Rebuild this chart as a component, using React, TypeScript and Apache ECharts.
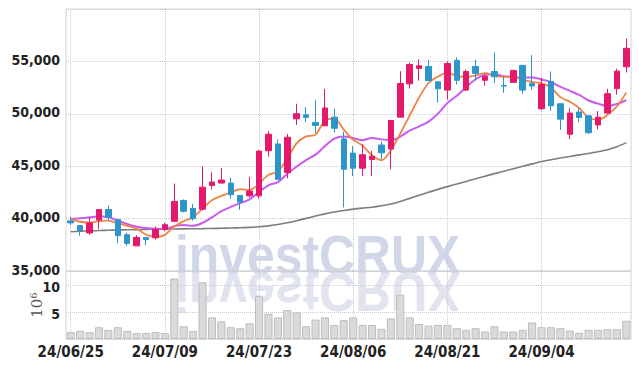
import React, { useEffect, useRef } from "react";
import * as echarts from "echarts";

const dates = [
  "24/06/25", "24/06/26", "24/06/27", "24/06/28", "24/07/01", "24/07/02", "24/07/03", "24/07/04", "24/07/05", "24/07/08",
  "24/07/09", "24/07/10", "24/07/11", "24/07/12", "24/07/15", "24/07/16", "24/07/17", "24/07/18", "24/07/19", "24/07/22",
  "24/07/23", "24/07/24", "24/07/25", "24/07/26", "24/07/29", "24/07/30", "24/07/31", "24/08/01", "24/08/02", "24/08/05",
  "24/08/06", "24/08/07", "24/08/08", "24/08/09", "24/08/12", "24/08/13", "24/08/14", "24/08/16", "24/08/19", "24/08/20",
  "24/08/21", "24/08/22", "24/08/23", "24/08/26", "24/08/27", "24/08/28", "24/08/29", "24/08/30", "24/09/02", "24/09/03",
  "24/09/04", "24/09/05", "24/09/06", "24/09/09", "24/09/10", "24/09/11", "24/09/12", "24/09/13", "24/09/19", "24/09/20",
];

const opens = [
  39780, 39330, 38630, 39860, 40870, 39900, 38460, 37400, 38200, 38170,
  38970, 39740, 41730, 40980, 40890, 43170, 43390, 43390, 42210, 42170,
  42170, 46470, 47120, 44390, 49520, 49900, 49180, 48850, 49680, 47600,
  46250, 44810, 45640, 47020, 46640, 49680, 52860, 54330, 54520, 53050,
  52260, 55100, 52260, 54520, 53200, 54040, 52690, 53000, 54620, 52880,
  50480, 53080, 50960, 48050, 50170, 49810, 48940, 50070, 52400, 54480,
];
const highs = [
  40190, 39380, 40100, 40900, 41250, 40000, 38670, 38410, 38230, 39250,
  39600, 43340, 41830, 41410, 45000, 44420, 44810, 43910, 42230, 43980,
  46540, 48370, 47570, 48080, 50960, 50640, 51320, 52380, 50480, 48300,
  46920, 47090, 46450, 47360, 49420, 54070, 54880, 55200, 55150, 53080,
  55000, 55390, 54230, 55160, 53720, 55840, 53550, 54200, 54640, 55600,
  53430, 54040, 50960, 50530, 50530, 49900, 50260, 52380, 54300, 57180,
];
const lows = [
  39400, 38370, 38460, 39010, 39810, 37640, 37400, 37380, 37470, 37980,
  38800, 39660, 40570, 39810, 40770, 42790, 43340, 41880, 40840, 42000,
  41910, 45900, 43720, 43850, 48940, 49200, 48150, 48820, 48220, 41060,
  44040, 44070, 44070, 45650, 44710, 49660, 52400, 53170, 53150, 51060,
  51350, 52790, 52170, 53200, 52690, 52950, 52000, 52950, 51920, 52300,
  50390, 50290, 48460, 47590, 49200, 48080, 48510, 50050, 51830, 53940,
];
const closes = [
  39590, 38850, 39590, 40870, 40130, 38370, 37630, 38200, 38010, 38970,
  39420, 41640, 40700, 39990, 43000, 43490, 43680, 42280, 41570, 42630,
  46440, 48050, 43750, 47760, 50000, 49650, 48890, 50550, 48620, 44710,
  44810, 46090, 45960, 46280, 49360, 52890, 54710, 54580, 53170, 52390,
  54800, 53200, 54040, 53850, 53580, 53530, 52650, 54140, 52260, 52650,
  52790, 50770, 49490, 50070, 49650, 48200, 49680, 51920, 54070, 56250,
];

// volume in millions of shares
const volumes = [
  1.28, 1.5, 1.28, 2.18, 1.7, 2.18, 1.46, 1.1, 1.1, 1.28,
  1.1, 11.2, 2.36, 1.46, 10.5, 4.0, 3.27, 2.18, 2.0, 2.9,
  8.0, 4.7, 4.0, 5.36, 4.9, 2.36, 3.6, 4.0, 2.6, 3.5,
  4.0, 2.6, 2.6, 1.88, 3.8, 8.2, 4.0, 2.78, 2.47, 2.6,
  2.6, 2.0, 1.7, 2.0, 1.39, 2.36, 1.39, 1.39, 1.7, 3.08,
  2.18, 2.18, 2.0, 1.57, 1.16, 1.7, 1.7, 1.8, 1.8, 3.38,
];

const ma5 = [
  39950, 39700, 39620, 39760, 39800, 39560, 39310, 39040, 38470, 38240,
  38450, 39250, 39750, 40140, 40950, 41760, 42170, 42490, 42800, 42730,
  43320, 44190, 44490, 45730, 47200, 47840, 48010, 49370, 49540, 48490,
  47520, 46960, 46040, 45570, 46500, 48110, 49840, 51560, 52940, 53550,
  53930, 53630, 53520, 53650, 53890, 53640, 53530, 53550, 53230, 53050,
  52900, 52520, 51590, 51150, 50550, 49640, 49420, 49900, 50700, 52020,
];
const ma10 = [
  39970, 40030, 40120, 40220, 40130, 39810, 39490, 39230, 39100, 39020,
  39000, 39280, 39390, 39310, 39590, 40110, 40710, 41120, 41470, 41840,
  42540, 43180, 43490, 44270, 44970, 45580, 46100, 46930, 47630, 47840,
  47680, 47480, 47700, 47560, 47490, 47820, 48400, 48800, 49260, 50020,
  51020, 51730, 52540, 53300, 53720, 53780, 53580, 53530, 53440, 53470,
  53270, 53030, 52570, 52190, 51800, 51270, 50970, 50750, 50930, 51290,
];
const ma60 = [
  38750, 38790, 38830, 38860, 38890, 38910, 38930, 38950, 38970, 38990,
  39000, 39010, 39020, 39030, 39040, 39060, 39080, 39100, 39130, 39160,
  39220, 39310, 39430, 39600, 39800, 40020, 40250, 40450, 40630, 40780,
  40900, 41000, 41090, 41230, 41400, 41640, 41930, 42230, 42510, 42790,
  43050, 43300, 43550, 43800, 44050, 44290, 44520, 44760, 45000, 45220,
  45440, 45620, 45780, 45930, 46080, 46220, 46380, 46570, 46850, 47250,
];

const priceAxis = [35000, 60000, 5000];
const volumeAxis = [0, 12.6, 5];

const UP = "#e4196b";
const DOWN = "#2e95c9";
const LABEL_FONT = "'Liberation Sans Narrow', 'DejaVu Sans Condensed', sans-serif";
const GRID_LINE = { color: "#c9c9dc", type: "dotted" as const, width: 1 };

export default function App() {
  const ref = useRef<HTMLDivElement>(null);
  useEffect(() => {
    if (!ref.current) return;
    const chart = echarts.init(ref.current, undefined, { renderer: "svg" });
    const candles = dates.map((_, i) => [opens[i], closes[i], lows[i], highs[i]]);
    const labelFont = {
      fontFamily: LABEL_FONT,
      fontWeight: "bold" as const,
      fontSize: 14,
      color: "#222",
    };
    const wmStyle = {
      text: "investCRUX",
      fontFamily: "'Liberation Sans', Arial, sans-serif",
      fontWeight: "bold",
      fontSize: 56,
      align: "left",
      verticalAlign: "middle",
    };
    chart.setOption({
      animation: false,
      graphic: [
        {
          type: "text",
          z: -1,
          silent: true,
          x: 175,
          y: 254,
          scaleX: 0.89,
          style: { ...wmStyle, fill: "#d1d6e8" },
        },
        {
          type: "text",
          z: -1,
          silent: true,
          x: 175,
          y: 293,
          scaleX: 0.89,
          scaleY: -1,
          style: { ...wmStyle, fill: "#e1e4ef" },
        },
      ],
      grid: [
        { left: 66, right: 8, top: 9, height: 262, show: true, borderColor: "#d4d4d4", borderWidth: 1 },
        { left: 66, right: 8, top: 271, height: 68, show: true, borderColor: "#d4d4d4", borderWidth: 1 },
      ],
      xAxis: [
        {
          type: "category",
          gridIndex: 0,
          data: dates,
          boundaryGap: true,
          axisLine: { show: false },
          axisTick: { show: false },
          axisLabel: { show: false },
          splitLine: { show: true, interval: 9, alignWithLabel: true, lineStyle: GRID_LINE },
        },
        {
          type: "category",
          gridIndex: 1,
          data: dates,
          boundaryGap: true,
          axisLine: { show: false },
          axisTick: { show: false },
          axisLabel: { ...labelFont, fontSize: 15, interval: 9, margin: 5 },
          splitLine: { show: true, interval: 9, alignWithLabel: true, lineStyle: GRID_LINE },
        },
      ],
      yAxis: [
        {
          type: "value",
          gridIndex: 0,
          min: priceAxis[0],
          max: priceAxis[1],
          interval: priceAxis[2],
          axisLine: { show: false },
          axisTick: { show: false },
          axisLabel: {
            ...labelFont,
            margin: 6,
            showMaxLabel: false,
            formatter: (v: number) => `{p|${v.toLocaleString("en-US")}}`,
            rich: { p: { ...labelFont, lineHeight: 13, padding: [0, 0, 3, 0] } },
          },
          splitLine: { show: true, lineStyle: GRID_LINE },
        },
        {
          type: "value",
          gridIndex: 1,
          min: volumeAxis[0],
          max: volumeAxis[1],
          interval: volumeAxis[2],
          name: "{a|10}{b|6}",
          nameLocation: "middle",
          nameRotate: 90,
          nameGap: 20,
          nameMoveOverlap: false,
          nameTextStyle: {
            color: "#555",
            rich: {
              a: { fontFamily: "'DejaVu Serif', serif", fontSize: 15, color: "#555", lineHeight: 18 },
              b: { fontFamily: "'DejaVu Serif', serif", fontSize: 10, color: "#555", verticalAlign: "top", lineHeight: 10 },
            },
          },
          axisLine: { show: false },
          axisTick: { show: false },
          axisLabel: {
            ...labelFont,
            margin: 6,
            showMinLabel: false,
            showMaxLabel: false,
            formatter: (v: number) => `{v|${v}}`,
            rich: { v: { ...labelFont, lineHeight: 13, padding: [4, 0, 0, 0] } },
          },
          splitLine: { show: true, lineStyle: GRID_LINE },
        },
      ],
      series: [
        {
          type: "bar",
          xAxisIndex: 1,
          yAxisIndex: 1,
          data: volumes,
          barWidth: "86%",
          itemStyle: { color: "#dadada", borderColor: "#bdbdbd", borderWidth: 1 },
          z: 2,
        },
        {
          type: "line",
          xAxisIndex: 0,
          yAxisIndex: 0,
          data: ma60,
          symbol: "none",
          smooth: 0.3,
          lineStyle: { color: "#7d7d7d", width: 1.6 },
          z: 3,
        },
        {
          type: "line",
          xAxisIndex: 0,
          yAxisIndex: 0,
          data: ma10,
          symbol: "none",
          smooth: 0.3,
          lineStyle: { color: "#c95af0", width: 2 },
          z: 3,
        },
        {
          type: "line",
          xAxisIndex: 0,
          yAxisIndex: 0,
          data: ma5,
          symbol: "none",
          smooth: 0.3,
          lineStyle: { color: "#ef8447", width: 1.8 },
          z: 4,
        },
        {
          type: "candlestick",
          xAxisIndex: 0,
          yAxisIndex: 0,
          data: candles,
          barWidth: "64%",
          itemStyle: {
            color: UP,
            color0: DOWN,
            borderColor: UP,
            borderColor0: DOWN,
            borderWidth: 1,
          },
          z: 5,
        },
      ],
    });
    return () => chart.dispose();
  }, []);
  return (
    <div
      ref={ref}
      style={{ position: "fixed", left: 0, top: 0, width: 639, height: 366, background: "#fff" }}
    />
  );
}
